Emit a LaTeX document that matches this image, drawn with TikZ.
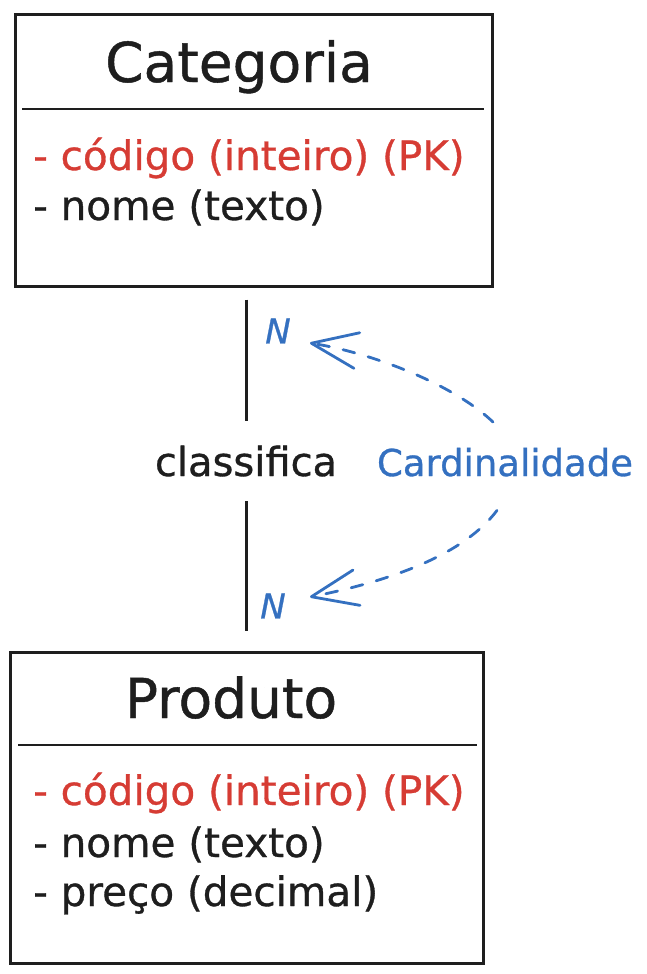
\documentclass[tikz,border=0pt]{standalone}
\usepackage{fontspec}
\setmainfont{DejaVu Sans}[
  BoldFont=DejaVu Sans, BoldFeatures={FakeBold=0.8},
  BoldItalicFont=DejaVu Sans Oblique, BoldItalicFeatures={FakeBold=0.8}]
\usetikzlibrary{arrows.meta}
\definecolor{ink}{HTML}{1E1E1E}
\definecolor{pkred}{HTML}{D63C34}
\definecolor{noteblue}{HTML}{3470C0}
\begin{document}
\begin{tikzpicture}[x=1pt,y=-1pt,
 box/.style={draw=ink, line width=3pt, rectangle, inner sep=0pt},
 divider/.style={draw=ink, line width=2.6pt},
 title/.style={font=\bfseries\fontsize{55}{60}\selectfont, text=ink, anchor=base, inner sep=0pt},
 attr/.style={font=\bfseries\fontsize{40.5}{44}\selectfont, text=ink, anchor=base west, inner sep=0pt},
 pk/.style={attr, text=pkred},
 conn/.style={draw=ink, line width=3pt},
 rellabel/.style={font=\bfseries\fontsize{40}{44}\selectfont, text=ink, anchor=base, minimum height=80pt, inner sep=0pt},
 note/.style={font=\bfseries\fontsize{37}{40}\selectfont, text=noteblue, anchor=base, minimum height=80pt, inner sep=0pt},
 cardlabel/.style={font=\bfseries\itshape\fontsize{34}{38}\selectfont, text=noteblue, inner sep=0pt},
 pointer/.style={draw=noteblue, line width=2.8pt, line cap=round, dash pattern=on 12pt off 14pt,
   -{Straight Barb[length=46pt,width=36pt,round]}}
]
\useasboundingbox (0,0) rectangle (646,974);

% Categoria entity
\node[box, minimum width=477pt, minimum height=271pt] (cat) at (253.5,150.5) {};
\node[title] (catTitle) at (239,82) {Categoria};
\draw[divider] (22,109) -- (484,109);
\node[pk] (catA1) at (33,170) {- código (inteiro) (PK)};
\node[attr] (catA2) at (33,220) {- nome (texto)};

% Produto entity
\node[box, minimum width=473pt, minimum height=311pt] (prod) at (246.5,807.5) {};
\node[title] (prodTitle) at (231,718) {Produto};
\draw[divider] (18,745) -- (477,745);
\node[pk] (prodA1) at (33,805) {- código (inteiro) (PK)};
\node[attr] (prodA2) at (33,857) {- nome (texto)};
\node[attr] (prodA3) at (33,906) {- preço (decimal)};

% relationship
\node[rellabel] (rel) at (246,476) {classifica};
\draw[conn] ([yshift=-12pt]cat.south -| rel.north) -- (rel.north);
\draw[conn] (rel.south) -- ([yshift=20pt]prod.north -| rel.south);

% cardinalities
\node[cardlabel] (nTop) at (278,331) {N};
\node[cardlabel] (nBot) at (273,606) {N};
\node[note] (card) at (505,476) {Cardinalidade};

\draw[pointer] ([xshift=-12pt]card.north) .. controls +(-40,-38) and +(62,10) .. ([shift={(32pt,-12pt)}]nTop.center);
\draw[pointer] ([xshift=-8pt,yshift=-8pt]card.south) .. controls +(-36,48) and +(70,-14) .. ([shift={(37pt,9pt)}]nBot.center);
\end{tikzpicture}
\end{document}
